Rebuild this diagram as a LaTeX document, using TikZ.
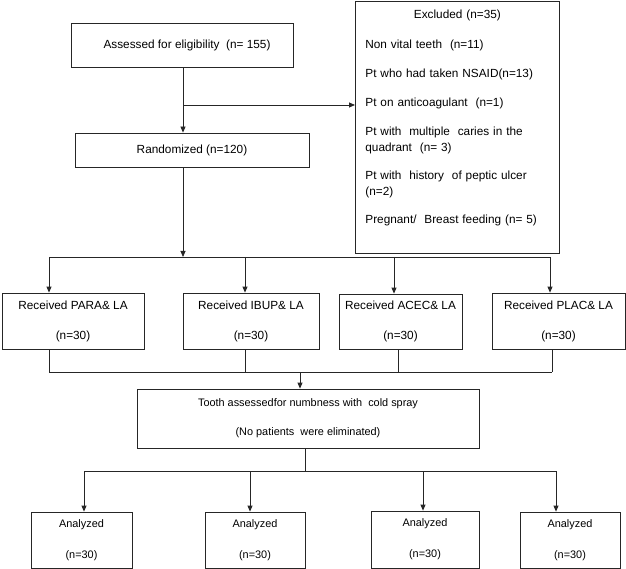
\documentclass[tikz,border=0pt]{standalone}
\usepackage{fontspec}
\setmainfont{Liberation Sans}
\usetikzlibrary{arrows.meta}
\begin{document}
\begin{tikzpicture}[x=1pt,y=-1pt,>={Triangle[length=6pt,width=5pt]},
  box/.style={draw=black!85,line width=0.8pt,align=center,inner sep=0pt,
    font=\fontsize{10.9}{13}\selectfont},
  big/.style={font=\fontsize{11.8}{13}\selectfont},
  link/.style={draw=black!85,line width=0.8pt}]

\useasboundingbox (0,0) rectangle (626,569);

% The top boxes
\node[box,big,minimum width=222pt,minimum height=44pt] (assess) at (182,45) {\hspace*{10pt}Assessed for eligibility\ \ (n= 155)};
\node[box,big,minimum width=234pt,minimum height=34pt] (rand) at (192,150) {Randomized (n=120)};
\node[box,anchor=north west,align=left,text width=184pt,inner xsep=10pt,inner ysep=9pt,
  font=\fontsize{11.8}{16}\selectfont] (excl) at (355,1)
  {\makebox[\linewidth][c]{Excluded (n=35)}\\[14pt]
   Non vital teeth\ \ (n=11)\\[13pt]
   Pt who had taken NSAID(n=13)\\[13pt]
   Pt on anticoagulant\ \ (n=1)\\[13pt]
   Pt with\ \ multiple\ \ caries in the\\
   quadrant\ \ (n= 3)\\[12pt]
   Pt with\ \ history\ \ of peptic ulcer\\
   (n=2)\\[12pt]
   Pregnant/\ \ Breast feeding (n= 5)\\[4pt]\mbox{}};

% The treatment groups
\node[box,big,minimum width=142pt,minimum height=56pt] (para) at (73,321) {Received PARA\& LA\\[17pt](n=30)};
\node[box,big,minimum width=136pt,minimum height=56pt] (ibup) at (251,321) {Received IBUP\& LA\\[17pt](n=30)};
\node[box,big,minimum width=123pt,minimum height=55pt] (acec) at (400.5,321.5) {Received ACEC\& LA\\[17pt](n=30)};
\node[box,big,minimum width=133pt,minimum height=56pt] (plac) at (558.5,321) {Received PLAC\& LA\\[17pt](n=30)};

\node[box,minimum width=342pt,minimum height=59pt] (tooth) at (308,418.5) {Tooth assessedfor numbness with\ \ cold spray\\[16pt](No patients\ \ were eliminated)};

% The analyzed boxes
\node[box,minimum width=101pt,minimum height=56pt] (ana1) at (81.5,540) {Analyzed\\[18pt](n=30)};
\node[box,minimum width=100pt,minimum height=56pt] (ana2) at (255,540) {Analyzed\\[18pt](n=30)};
\node[box,minimum width=108pt,minimum height=57pt] (ana3) at (425,539.5) {Analyzed\\[18pt](n=30)};
\node[box,minimum width=100pt,minimum height=56pt] (ana4) at (570,540) {Analyzed\\[18pt](n=30)};

% The branch points
\coordinate (split) at (183,105);
\coordinate (rsplit) at (183,257);
\coordinate (join) at (300,372);
\coordinate (tsplit) at (305,471);

\draw[link,->] (split |- assess.south) -- (split |- rand.north);
\draw[link,->] (split) -- (split -| excl.west);
\draw[link,->] (rsplit |- rand.south) -- (rsplit);
\draw[link] (49,257) -- (550,257);
\foreach \xx/\nn in {49/para,245/ibup,394/acec,550/plac}
  \draw[link,->] (\xx,257) -- (\xx,257 |- \nn.north);

\foreach \xx/\nn in {49/para,245/ibup,398/acec,552/plac}
  \draw[link] (\xx,372 |- \nn.south) -- (\xx,372);
\draw[link] (49,372) -- (552,372);
\draw[link,->] (join) -- (join |- tooth.north);

\draw[link] (tsplit |- tooth.south) -- (tsplit);
\draw[link] (84,471) -- (556,471);
\foreach \xx/\nn in {84/ana1,250/ana2,423/ana3,556/ana4}
  \draw[link,->] (\xx,471) -- (\xx,471 |- \nn.north);

\end{tikzpicture}
\end{document}
